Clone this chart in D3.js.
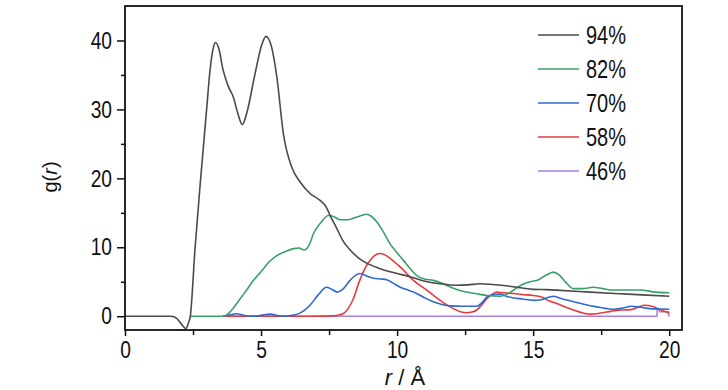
<!DOCTYPE html>
<html>
<head>
<meta charset="utf-8">
<script src="https://cdn.jsdelivr.net/npm/d3@7"></script>
<style>
  html, body { margin: 0; padding: 0; background: #fff; }
  svg { display: block; }
  text { font-family: "Liberation Sans Narrow", "Arial Narrow", "Liberation Sans", Arial, sans-serif; fill: #111; }
</style>
</head>
<body>
<svg id="chart" width="728" height="390"></svg>
<script>
// ---------------- data ----------------
const seriesNames = ["94%", "82%", "70%", "58%", "46%"];
const seriesColors = ["#4a4a4a", "#37a066", "#2f68cf", "#e63a3e", "#a57fe2"];

const s94 = [[0,0],[1.5,0],[1.7,0],[1.9,-0.3],[2.1,-1.3],[2.24,-1.8],[2.33,-1.0],[2.4,0],[2.57,9.6],[2.76,19],[3.0,30],[3.12,35.5],[3.25,39],[3.33,39.7],[3.45,38.8],[3.6,35.8],[3.8,33.3],[3.98,31.8],[4.17,29.1],[4.31,27.8],[4.47,29.4],[4.78,35.2],[5.02,39.3],[5.18,40.6],[5.39,39],[5.58,34.7],[5.82,26.5],[6.13,21.6],[6.43,19.5],[6.8,17.8],[7.17,16.8],[7.4,15.8],[7.54,14.6],[7.8,12.6],[8.0,11.0],[8.3,9.5],[8.6,8.4],[8.88,7.7],[9.3,7.0],[9.7,6.5],[10.0,6.2],[10.5,5.7],[11.1,5.0],[11.6,4.7],[12.2,4.5],[12.6,4.55],[13.05,4.7],[13.5,4.6],[14.15,4.35],[14.6,4.1],[15.0,3.9],[15.5,3.85],[16.0,3.75],[17.1,3.5],[18.0,3.3],[19.0,3.1],[20.0,2.9]];

const s82 = [[2.4,0],[3.5,0],[3.7,0.1],[3.9,0.8],[4.1,1.8],[4.3,2.9],[4.47,3.8],[4.7,5.1],[4.9,6.0],[5.09,6.9],[5.3,7.9],[5.58,8.8],[5.9,9.4],[6.19,9.8],[6.4,9.9],[6.58,9.6],[6.75,10.2],[6.93,12.0],[7.2,13.6],[7.48,14.6],[7.7,14.4],[7.9,14.0],[8.2,14.0],[8.52,14.4],[8.88,14.8],[9.05,14.5],[9.25,13.7],[9.5,12.2],[9.74,10.5],[10.0,9.2],[10.23,8.1],[10.5,6.8],[10.72,5.9],[11.0,5.4],[11.33,5.2],[11.65,4.8],[11.95,4.25],[12.25,3.8],[12.56,3.5],[13.0,3.2],[13.3,3.0],[13.79,2.9],[14.05,3.2],[14.28,3.8],[14.6,4.6],[14.89,5.0],[15.2,5.3],[15.45,5.9],[15.75,6.4],[15.95,6.0],[16.2,4.9],[16.48,4.0],[16.8,4.0],[17.2,4.2],[17.55,4.0],[17.95,3.8],[18.5,3.8],[18.93,3.8],[19.5,3.5],[20.0,3.4]];

const s70 = [[3.6,0],[3.9,0.2],[4.1,0.35],[4.35,0.15],[4.6,0],[4.9,0.05],[5.1,0.2],[5.35,0.3],[5.6,0.1],[5.85,0],[6.1,0.1],[6.43,0.45],[6.8,1.6],[7.1,3.1],[7.41,4.2],[7.6,3.9],[7.8,3.5],[8.0,3.9],[8.27,5.2],[8.5,6.0],[8.64,6.2],[8.9,5.8],[9.13,5.5],[9.4,5.4],[9.62,5.3],[9.85,4.8],[10.1,4.25],[10.4,3.8],[10.72,3.3],[11.0,2.7],[11.33,2.1],[11.65,1.7],[11.95,1.5],[12.4,1.45],[12.93,1.45],[13.1,1.9],[13.3,2.8],[13.5,3.1],[13.79,3.2],[14.0,2.9],[14.28,2.65],[14.6,2.5],[15.0,2.3],[15.3,2.4],[15.6,2.8],[15.75,2.9],[16.0,2.6],[16.48,2.1],[16.9,1.7],[17.34,1.35],[17.7,1.1],[17.95,1.0],[18.3,1.2],[18.6,1.45],[18.95,1.3],[19.3,1.1],[19.7,1.05],[20.0,1.0]];

const s58 = [[3.6,0],[7.0,0],[7.6,0.05],[7.8,0.15],[8.03,0.4],[8.2,1.1],[8.4,2.6],[8.58,4.7],[8.8,6.8],[9.07,8.4],[9.25,9.0],[9.38,9.1],[9.55,8.9],[9.74,8.4],[10.1,7.2],[10.35,6.2],[10.6,5.2],[11.09,3.8],[11.58,2.3],[12.07,1.1],[12.3,0.7],[12.56,0.5],[12.75,0.6],[12.93,0.9],[13.1,1.6],[13.3,2.55],[13.5,3.2],[13.66,3.5],[13.9,3.4],[14.28,3.3],[14.6,3.15],[15.0,3.0],[15.3,2.8],[15.6,2.2],[15.87,1.85],[16.2,1.3],[16.48,0.9],[16.8,0.5],[17.1,0.3],[17.4,0.4],[17.7,0.6],[18.0,0.8],[18.32,0.9],[18.6,0.95],[18.85,1.3],[19.1,1.6],[19.4,1.4],[19.7,0.9],[20.0,0.45]];

const s46 = [[3.6,0],[19.55,0],[19.56,1.0],[19.63,1.0],[19.65,0.65],[19.97,0.65],[19.99,0],[20.0,0]];

const xMajorTicks = [0, 5, 10, 15, 20];
const xMinorTicks = [2.5, 7.5, 12.5, 17.5];
const yMajorTicks = [0, 10, 20, 30, 40];
const yMinorTicks = [5, 15, 25, 35];

const allSeries = [s94, s82, s70, s58, s46];

// ---------------- drawing ----------------
const svg = d3.select("#chart");
const mLeft = 125, mRight = 682, mTop = 6, mBottom = 330;
const squeeze = 0.8; // narrow-font look

const x = d3.scaleLinear().domain([0, 20.47]).range([mLeft, mRight]);
const y = d3.scaleLinear().domain([-2, 45]).range([mBottom, mTop]);

const lineSmooth = d3.line().x(d => x(d[0])).y(d => y(d[1])).curve(d3.curveMonotoneX);
const lineStraight = d3.line().x(d => x(d[0])).y(d => y(d[1]));

const order = [4, 3, 2, 1, 0];
order.forEach(i => {
  svg.append("path")
    .datum(allSeries[i])
    .attr("fill", "none")
    .attr("stroke", seriesColors[i])
    .attr("stroke-width", 1.6)
    .attr("stroke-linejoin", "round")
    .attr("d", i === 4 ? lineStraight : lineSmooth);
});

const axisStyle = g => {
  g.select(".domain").remove();
  g.selectAll(".tick line").attr("stroke", "#111").attr("stroke-width", 1.5);
  g.selectAll(".tick text").style("font-size", "24px").attr("fill", "#111").classed("sq", true);
};

svg.append("g").attr("transform", `translate(0,${mBottom})`)
  .call(d3.axisBottom(x).tickValues(xMajorTicks).tickSize(6).tickPadding(5).tickFormat(d3.format("d")))
  .call(axisStyle);
svg.append("g").attr("transform", `translate(0,${mBottom})`)
  .call(d3.axisBottom(x).tickValues(xMinorTicks).tickSize(5).tickFormat(""))
  .call(axisStyle);

svg.append("g").attr("transform", `translate(${mLeft},0)`)
  .call(d3.axisLeft(y).tickValues(yMajorTicks).tickSize(8).tickPadding(5).tickFormat(d3.format("d")))
  .call(axisStyle);
svg.append("g").attr("transform", `translate(${mLeft},0)`)
  .call(d3.axisLeft(y).tickValues(yMinorTicks).tickSize(4).tickFormat(""))
  .call(axisStyle);

svg.append("rect")
  .attr("x", mLeft).attr("y", mTop)
  .attr("width", mRight - mLeft).attr("height", mBottom - mTop)
  .attr("fill", "none").attr("stroke", "#111").attr("stroke-width", 1.8);

// axis titles (regular width, slightly smaller)
const xt = svg.append("text")
  .attr("x", 405).attr("y", 385)
  .attr("text-anchor", "middle")
  .style("font-size", "22px");
xt.append("tspan").style("font-style", "italic").text("r");
xt.append("tspan").text(" / Å");

const yt = svg.append("text")
  .attr("transform", "translate(57,177) rotate(-90)")
  .attr("text-anchor", "middle")
  .style("font-size", "20px");
yt.append("tspan").text("g(");
yt.append("tspan").style("font-style", "italic").text("r");
yt.append("tspan").text(")");

const legendY = d3.scaleLinear().domain([0, 4]).range([35, 171]);
const legend = svg.append("g");
seriesNames.forEach((name, i) => {
  const yy = legendY(i);
  legend.append("line")
    .attr("x1", 538).attr("x2", 579)
    .attr("y1", yy).attr("y2", yy)
    .attr("stroke", seriesColors[i]).attr("stroke-width", 1.6);
  legend.append("text")
    .attr("class", "sq")
    .attr("x", 586).attr("y", yy)
    .attr("dy", "0.36em")
    .style("font-size", "25px")
    .text(name);
});

// compress plain labels horizontally to mimic the narrow typeface
svg.selectAll("text.sq").each(function () {
  const len = this.getComputedTextLength();
  if (len > 0) {
    d3.select(this).attr("textLength", len * squeeze).attr("lengthAdjust", "spacingAndGlyphs");
  }
});
</script>
</body>
</html>
